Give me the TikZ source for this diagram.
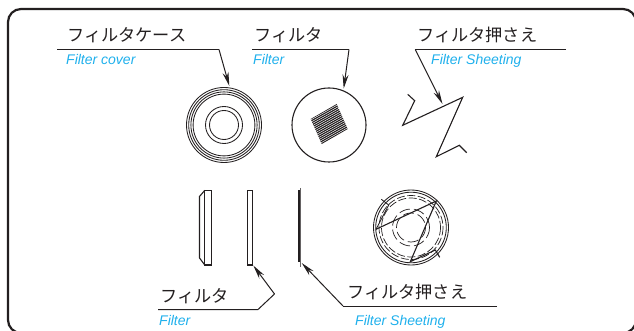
\documentclass[tikz,border=0pt]{standalone}
\usepackage{fontspec}
\setmainfont{Liberation Sans}
\newfontfamily\jpfont{Noto Sans CJK JP}
\definecolor{cyanlabel}{HTML}{1FB0EC}
\definecolor{inkc}{HTML}{231F20}
\usetikzlibrary{arrows.meta}
\tikzset{
  jp/.style={anchor=base west,inner sep=0pt,text=inkc,font=\fontsize{17.2}{17.2}\selectfont\jpfont},
  en/.style={anchor=base west,inner sep=0pt,text=cyanlabel,font=\fontsize{14}{14}\selectfont\itshape},
  ld/.style={draw=inkc,line width=1pt},
  arr/.style={ld,-{Stealth[length=14pt,width=6pt]}},
  part/.style={draw=inkc,line width=1.1pt,fill=none},
  thinln/.style={draw=inkc,line width=0.85pt},
  dsh/.style={draw=inkc,line width=0.7pt,dash pattern=on 8pt off 2.5pt},
  dshin/.style={draw=inkc,line width=0.7pt,dash pattern=on 11pt off 4pt}
}
\begin{document}
\begin{tikzpicture}[x=1pt,y=-1pt]
\useasboundingbox (0,0) rectangle (634,331);
\clip (0,0) rectangle (634,331);
\draw[draw=inkc,line width=2.2pt,rounded corners=13pt] (8,9) rectangle (636,333);
% labels
\node[jp] (t1) at (67,42) {フィルタケース};
\node[en] (e1) at (66,65) {Filter cover};
\node[jp] (t2) at (254,42) {フィルタ};
\node[en] (e2) at (253,65) {Filter};
\node[jp] (t3) at (417,42) {フィルタ押さえ};
\node[en] (e3) at (431,65) {Filter Sheeting};
\node[jp] (t4) at (160,302) {フィルタ};
\node[en] (e4) at (159,325) {Filter};
\node[jp] (t5) at (347,298.5) {フィルタ押さえ};
\node[en] (e5) at (355,325) {Filter Sheeting};
% filter cover
\coordinate (c1) at (224,125);
\foreach \r in {37.5,35.3,33.1,30.9} \draw[thinln] (c1) circle (\r);
\foreach \r in {18.5,14.5} \draw[thinln] (c1) circle (\r);
% filter
\coordinate (c2) at (329,125);
\draw[part] (c2) circle (37);
\begin{scope}
\clip (336.7,104) -- (347.7,129) -- (321.7,144) -- (310.7,119) -- cycle;
\foreach \i in {-34,-31.8,...,34} \draw[draw=inkc,line width=1.15pt] (329,125) ++(0,\i) ++(-30,17) -- ++(60,-34);
\end{scope}
% sheeting
\coordinate (s1) at (407.7,94.3);
\coordinate (s2) at (414.7,100.7);
\coordinate (s3) at (402.7,125.3);
\coordinate (s4) at (462.7,97.3);
\coordinate (s5) at (436.3,156.7);
\coordinate (s6) at (459.3,145.3);
\coordinate (s7) at (466.7,152.7);
\draw[part,line join=miter] (s1) -- (s2) -- (s3) -- (s4) -- (s5) -- (s6) -- (s7);
% leaders top
\coordinate (a1) at (57,49.5);
\coordinate (a2) at (219,49.5);
\coordinate (a3) at (229.3,86);
\draw[ld] (a1) -- (a2);
\draw[arr] (a2) -- (a3);
\coordinate (b1) at (252,49.5);
\coordinate (b2) at (349,49.5);
\coordinate (b3) at (343.7,88.5);
\draw[ld] (b1) -- (b2);
\draw[arr] (b2) -- (b3);
\coordinate (d1) at (566,49.5);
\coordinate (d2) at (415.3,49.5);
\coordinate (d3) at (442.5,104);
\draw[ld] (d1) -- (d2);
\draw[arr] (d2) -- (d3);
% side views
\draw[part] (204.8,190.3) rectangle (211.2,265);
\draw[part] (204.8,190.3) -- (199.5,196.5) -- (199.5,258) -- (204.8,265);
\draw[part] (247.5,190.3) rectangle (252.7,265);
\draw[draw=inkc,line width=2.4pt] (299.3,190) -- (299.3,262);
\draw[draw=inkc!70,line width=1pt] (300,188) -- (300,267);
% leaders bottom
\coordinate (f1) at (158,309.5);
\coordinate (f2) at (258,309.5);
\coordinate (f3) at (274.5,294);
\coordinate (f4) at (253.3,265.5);
\draw[ld] (f1) -- (f2) -- (f3);
\draw[arr] (f3) -- (f4);
\coordinate (g1) at (497,306);
\coordinate (g2) at (343,306);
\coordinate (g3) at (301.7,263);
\draw[ld] (g1) -- (g2);
\draw[arr] (g2) -- (g3);
% assembled
\coordinate (c3) at (411,227.5);
\draw[thinln] (c3) circle (37.5);
\draw[thinln] (c3) circle (35.3);
\draw[dsh] (c3) circle (32);
\draw[dsh] (c3) circle (29.5);
\draw[dshin] (c3) circle (18.5);
\draw[dshin] (c3) circle (14.5);
\coordinate (p1) at (376,229.3);
\coordinate (p2) at (436.3,201);
\coordinate (p3) at (410.3,261.7);
\coordinate (p4) at (435.3,250);
\coordinate (p5) at (439.7,257.3);
\coordinate (p6) at (381.3,199.3);
\coordinate (p7) at (388.7,205);
\draw[part] (p1) -- (p2) -- (p3) -- (p4) -- (p5);
\draw[thinln] (p1) -- (p7) -- (p6);
\end{tikzpicture}
\end{document}
